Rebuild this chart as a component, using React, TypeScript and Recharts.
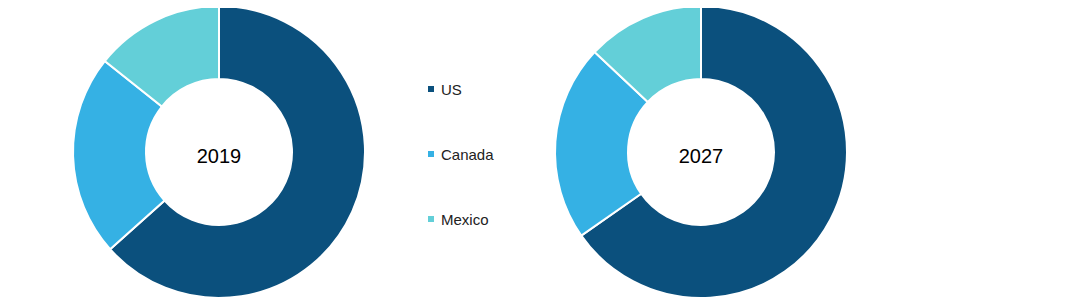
import React from 'react';
import { PieChart, Pie, Cell, Legend } from 'recharts';

const countries = ['US', 'Canada', 'Mexico'];
const colors = ['#0B507D', '#35B1E4', '#63CFD8'];
const share2019 = [63.4, 22.3, 14.3];
const share2027 = [65.3, 21.7, 13.0];

const data2019 = countries.map((name, i) => ({ name, value: share2019[i] }));
const data2027 = countries.map((name, i) => ({ name, value: share2027[i] }));

const font = 'Arial, "Liberation Sans", sans-serif';

const LegendBox = () => (
  <div style={{ fontFamily: font }}>
    {countries.map((c, i) => (
      <div key={c} style={{ display: 'flex', alignItems: 'center', height: 20, marginBottom: i < 2 ? 45 : 0 }}>
        <span style={{ width: 6, height: 6, background: colors[i], display: 'inline-block', marginRight: 7 }} />
        <span style={{ fontSize: 15, color: '#222' }}>{c}</span>
      </div>
    ))}
  </div>
);

const App: React.FC = () => (
  <PieChart width={1075} height={298} margin={{ top: 0, right: 0, bottom: 0, left: 0 }}>
    <Pie data={data2019} dataKey="value" nameKey="name" cx={211} cy={144} innerRadius={73} outerRadius={146}
      startAngle={90} endAngle={-270} stroke="#fff" strokeWidth={2} isAnimationActive={false}>
      {data2019.map((d, i) => <Cell key={d.name} fill={colors[i]} />)}
    </Pie>
    <Pie data={data2027} dataKey="value" nameKey="name" cx={693} cy={144} innerRadius={73} outerRadius={146}
      startAngle={90} endAngle={-270} stroke="#fff" strokeWidth={2} isAnimationActive={false}>
      {data2027.map((d, i) => <Cell key={d.name} fill={colors[i]} />)}
    </Pie>
    <text x={211} y={150} textAnchor="middle" dominantBaseline="middle" fontSize={20} fontFamily={font} fill="#000">2019</text>
    <text x={693} y={150} textAnchor="middle" dominantBaseline="middle" fontSize={20} fontFamily={font} fill="#000">2027</text>
    <Legend content={<LegendBox />} wrapperStyle={{ position: 'absolute', left: 420, top: 71, width: 120 }} />
  </PieChart>
);

export default App;
